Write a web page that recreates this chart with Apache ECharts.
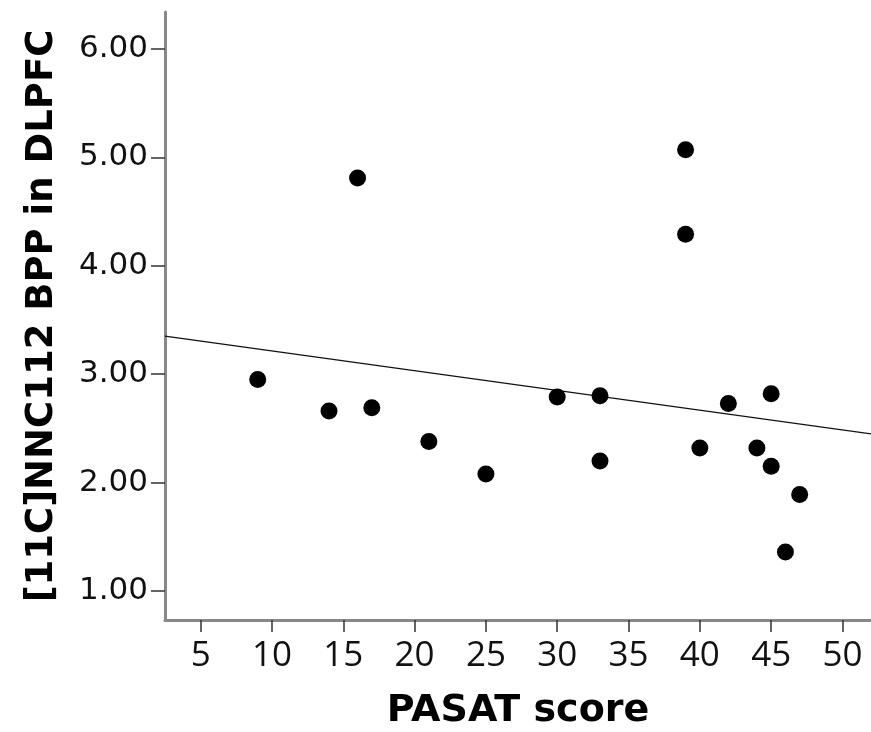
<!DOCTYPE html>
<html lang="en">
<head>
    <meta charset="UTF-8">
    <title>PASAT vs NNC112 BPP</title>
    <script src="https://cdn.jsdelivr.net/npm/echarts@6/dist/echarts.min.js"></script>
    <style>
        body { margin: 0; background: #fff; }
    </style>
</head>
<body>
    <div id="container" style="width: 871px;height: 732px"></div>

    <script>
        // 数据: PASAT score / BPP
        var pasat = [9, 14, 16, 17, 21, 25, 30, 33, 33, 39, 39, 40, 42, 44, 45, 45, 46, 47];
        var bpp = [2.95, 2.66, 4.81, 2.69, 2.38, 2.08, 2.79, 2.80, 2.20, 5.07, 4.29, 2.32, 2.73, 2.32, 2.82, 2.15, 1.36, 1.89];
        // 回归线两端
        var fitX = [2.5, 52];
        var fitY = [3.35, 2.45];
        var xTicks = [5, 10, 15, 20, 25, 30, 35, 40, 45, 50];
        var yTicks = [1, 2, 3, 4, 5, 6];

        var points = pasat.map(function (x, i) { return [x, bpp[i]]; });
        var fitLine = fitX.map(function (x, i) { return [x, fitY[i]]; });

        var myChart = echarts.init(document.getElementById('container'));
        myChart.setOption({
            backgroundColor: '#fff',
            animation: false,
            // outerBoundsMode none: keep grid fixed, don't shrink for names
            grid: { left: 165, right: 0, top: 12, bottom: 112, outerBoundsMode: 'none' },
            xAxis: {
                type: 'value',
                min: 2.5,
                max: 52,
                name: 'PASAT score',
                nameLocation: 'middle',
                nameGap: 72,
                nameTextStyle: { fontFamily: 'DejaVu Sans', fontWeight: 'bold', fontSize: 38, color: '#000' },
                splitLine: { show: false },
                axisLine: { lineStyle: { color: '#888', width: 3 } },
                axisTick: { customValues: xTicks, length: 12, lineStyle: { color: '#333', width: 1.5 } },
                axisLabel: {
                    customValues: xTicks,
                    margin: 19,
                    fontFamily: 'Open Sans',
                    fontSize: 35,
                    color: '#111'
                }
            },
            yAxis: {
                type: 'value',
                min: 0.733,
                max: 6.34,
                name: '[11C]NNC112 BPP in DLPFC',
                nameLocation: 'middle',
                nameGap: 104,
                nameTextStyle: { fontFamily: 'DejaVu Sans', fontWeight: 'bold', fontSize: 37, color: '#000' },
                splitLine: { show: false },
                axisLine: { lineStyle: { color: '#888', width: 3 } },
                axisTick: { customValues: yTicks, length: 14, lineStyle: { color: '#333', width: 1.5 } },
                axisLabel: {
                    customValues: yTicks,
                    margin: 17,
                    fontFamily: 'DejaVu Sans',
                    fontSize: 31,
                    color: '#111',
                    formatter: function (v) { return v.toFixed(2); }
                }
            },
            series: [{
                type: 'line',
                data: fitLine,
                showSymbol: false,
                lineStyle: { color: '#111', width: 1.3 },
                z: 1
            }, {
                type: 'scatter',
                data: points,
                symbolSize: 17,
                itemStyle: { color: '#000', opacity: 1 },
                z: 2
            }]
        });
    </script>
</body>
</html>
